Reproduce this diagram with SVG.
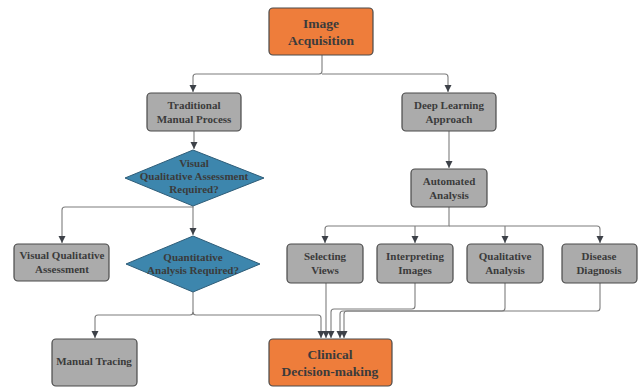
<svg xmlns="http://www.w3.org/2000/svg" width="644" height="388" viewBox="0 0 644 388">
<style>
.box{fill:#ababab;stroke:#4a4a4a;stroke-width:1.2}
.or{fill:#ee7d3b;stroke:#4a4a4a;stroke-width:1.2}
.dia{fill:#3d86ad;stroke:#2f5d78;stroke-width:1}
.t{font-family:"Liberation Serif",serif;font-weight:bold;font-size:11px;fill:#3b3b3b;text-anchor:middle}
.tl{font-size:13.5px}
.c{fill:none;stroke:#7d7d7d;stroke-width:1.1}
</style>
<defs>
<marker id="ah" markerWidth="8" markerHeight="8" refX="7" refY="4" orient="auto" markerUnits="userSpaceOnUse">
<path d="M0,0.5 L7,4 L0,7.5 Z" fill="#3d4148"/>
</marker>
</defs>
<g id="connectors">
<path class="c" d="M322,55 V71 Q322,74 319,74 H196 Q193,74 193,77 V92" marker-end="url(#ah)"/>
<path class="c" d="M322,74 H445 Q448,74 448,77 V92" marker-end="url(#ah)"/>
<path class="c" d="M194,131 V149" marker-end="url(#ah)"/>
<path class="c" d="M449,131 V168" marker-end="url(#ah)"/>
<path class="c" d="M193,206 V207 H65 Q62,207 62,210 V243" marker-end="url(#ah)"/>
<path class="c" d="M193,207 V235" marker-end="url(#ah)"/>
<path class="c" d="M193,292 V312 Q193,315 190,315 H98 Q95,315 95,318 V338" marker-end="url(#ah)"/>
<path class="c" d="M193,312 Q193,315 196,315 H318 Q321,315 321,318 V338" marker-end="url(#ah)"/>
<path class="c" d="M449,207 V226 H328 Q325,226 325,229 V243" marker-end="url(#ah)"/>
<path class="c" d="M449,226 H597 Q600,226 600,229 V243" marker-end="url(#ah)"/>
<path class="c" d="M415,226 V243" marker-end="url(#ah)"/>
<path class="c" d="M505,226 V243" marker-end="url(#ah)"/>
<path class="c" d="M326,283 V338" marker-end="url(#ah)"/>
<path class="c" d="M415,283 V306 Q415,309 412,309 H334 Q331,309 331,312 V338" marker-end="url(#ah)"/>
<path class="c" d="M505,283 V308 Q505,311 502,311 H343 Q340,311 340,314 V338" marker-end="url(#ah)"/>
<path class="c" d="M600,283 V308 Q600,311 597,311 H347 Q344,311 344,314 V338" marker-end="url(#ah)"/>
</g>
<g id="image-acquisition">
<rect class="or" x="269" y="8" width="104" height="47" rx="4"/>
<text class="t tl" x="321" y="28">Image</text>
<text class="t tl" x="321" y="45">Acquisition</text>
</g>
<g id="traditional">
<rect class="box" x="147" y="93" width="94" height="38" rx="4"/>
<text class="t" x="194" y="109">Traditional</text>
<text class="t" x="194" y="123">Manual Process</text>
</g>
<g id="deep-learning">
<rect class="box" x="402" y="93" width="94" height="38" rx="4"/>
<text class="t" x="449" y="109">Deep Learning</text>
<text class="t" x="449" y="123">Approach</text>
</g>
<g id="visual-required">
<path class="dia" d="M193,150 L264,178 L193,206 L125,178 Z"/>
<text class="t" x="194" y="167">Visual</text>
<text class="t" x="194" y="180">Qualitative Assessment</text>
<text class="t" x="194" y="193">Required?</text>
</g>
<g id="automated">
<rect class="box" x="411" y="169" width="76" height="38" rx="4"/>
<text class="t" x="449" y="185">Automated</text>
<text class="t" x="449" y="199">Analysis</text>
</g>
<g id="visual-qualitative">
<rect class="box" x="14" y="244" width="95" height="37" rx="4"/>
<text class="t" x="62" y="259">Visual Qualitative</text>
<text class="t" x="62" y="273">Assessment</text>
</g>
<g id="quantitative-required">
<path class="dia" d="M193,236 L260,264 L193,292 L126,264 Z"/>
<text class="t" x="193" y="261">Quantitative</text>
<text class="t" x="193" y="274">Analysis Required?</text>
</g>
<g id="selecting-views">
<rect class="box" x="287" y="244" width="76" height="39" rx="4"/>
<text class="t" x="325" y="260">Selecting</text>
<text class="t" x="325" y="274">Views</text>
</g>
<g id="interpreting-images">
<rect class="box" x="377" y="244" width="76" height="39" rx="4"/>
<text class="t" x="415" y="260">Interpreting</text>
<text class="t" x="415" y="274">Images</text>
</g>
<g id="qualitative-analysis">
<rect class="box" x="467" y="244" width="76" height="39" rx="4"/>
<text class="t" x="505" y="260">Qualitative</text>
<text class="t" x="505" y="274">Analysis</text>
</g>
<g id="disease-diagnosis">
<rect class="box" x="562" y="244" width="75" height="39" rx="4"/>
<text class="t" x="599" y="260">Disease</text>
<text class="t" x="599" y="274">Diagnosis</text>
</g>
<g id="manual-tracing">
<rect class="box" x="52" y="339" width="85" height="47" rx="4"/>
<text class="t" x="94" y="365">Manual Tracing</text>
</g>
<g id="clinical">
<rect class="or" x="269" y="339" width="123" height="47" rx="4"/>
<text class="t tl" x="330" y="359">Clinical</text>
<text class="t tl" x="330" y="376">Decision-making</text>
</g>
</svg>
